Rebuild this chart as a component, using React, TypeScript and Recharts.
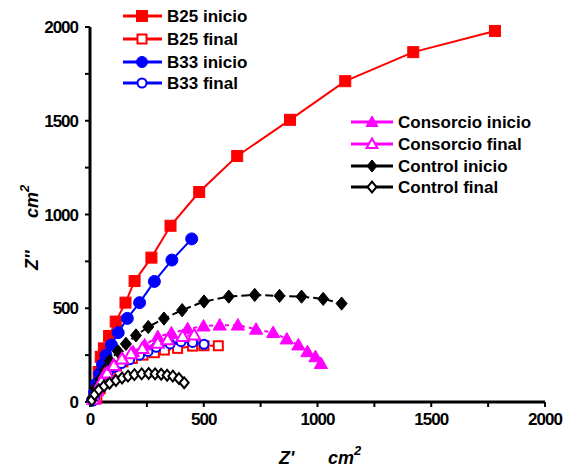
import React from 'react';
import { ScatterChart, Scatter, XAxis, YAxis } from 'recharts';

// Nyquist data, [Z', Z''] pairs
const b25Inicio = [
  [25, 20], [30, 80], [38, 160], [47, 241], [61, 286], [84, 352], [113, 429], [156, 530],
  [196, 645], [270, 770], [354, 940], [480, 1120], [647, 1312], [879, 1505], [1122, 1711],
  [1421, 1866], [1780, 1979],
];
const b25Final = [
  [30, 20], [45, 70], [65, 120], [90, 165], [116, 192], [145, 214], [186, 232], [233, 250],
  [283, 263], [327, 277], [385, 286], [451, 298], [501, 300], [564, 300],
];
const b33Inicio = [
  [12, 10], [20, 50], [30, 100], [42, 150], [55, 200], [70, 250], [94, 304], [124, 370],
  [164, 446], [218, 530], [283, 643], [360, 757], [447, 870],
];
const b33Final = [
  [20, 20], [35, 70], [55, 115], [80, 155], [108, 185], [138, 205], [174, 225], [218, 250],
  [255, 270], [291, 292], [352, 310], [400, 322], [451, 318], [501, 308],
];
const consorcioInicio = [
  [20, 20], [40, 80], [65, 150], [102, 196], [142, 232], [189, 268], [240, 304], [298, 348],
  [358, 368], [429, 390], [499, 405], [570, 410], [650, 410], [730, 388], [805, 370],
  [865, 336], [916, 304], [956, 268], [991, 241], [1015, 205],
];
const consorcioFinal = [
  [15, 15], [30, 60], [50, 110], [75, 155], [105, 195], [140, 230], [180, 258], [230, 285],
  [298, 314], [341, 332], [407, 350], [458, 358],
];
const controlInicio = [
  [10, 20], [25, 70], [45, 120], [65, 170], [87, 220], [123, 270], [158, 310], [202, 355],
  [256, 400], [325, 445], [405, 490], [501, 536], [610, 562], [724, 571], [833, 566],
  [930, 562], [1025, 550], [1106, 525],
];
const controlFinal = [
  [8, 10], [20, 40], [39, 65], [62, 85], [86, 100], [114, 115], [141, 128], [167, 138],
  [195, 146], [227, 150], [258, 152], [286, 150], [313, 148], [339, 143], [364, 138],
  [391, 125], [414, 103],
];

const axisTicks = [0, 250, 500, 750, 1000, 1250, 1500, 1750, 2000];

const toPts = (arr: number[][]) => arr.map(([x, y]) => ({ x, y }));

type Kind = 'square' | 'circle' | 'triangle' | 'diamond';

const drawMarker = (kind: Kind, color: string, open: boolean, s: number, cx: number, cy: number) => {
  const fill = open ? '#fff' : color;
  const stroke = color;
  const sw = open ? 2 : 1;
  if (kind === 'square') {
    return <rect x={cx - s / 2} y={cy - s / 2} width={s} height={s} fill={fill} stroke={stroke} strokeWidth={sw} />;
  }
  if (kind === 'circle') {
    return <circle cx={cx} cy={cy} r={s / 2} fill={fill} stroke={stroke} strokeWidth={sw} />;
  }
  if (kind === 'triangle') {
    const pts = `${cx},${cy - s * 0.6} ${cx - s * 0.6},${cy + s * 0.45} ${cx + s * 0.6},${cy + s * 0.45}`;
    return <polygon points={pts} fill={fill} stroke={stroke} strokeWidth={sw} strokeLinejoin="miter" />;
  }
  const pts = `${cx},${cy - s * 0.6} ${cx + s * 0.5},${cy} ${cx},${cy + s * 0.6} ${cx - s * 0.5},${cy}`;
  return <polygon points={pts} fill={fill} stroke={stroke} strokeWidth={sw} />;
};

const shape = (kind: Kind, color: string, open: boolean, s: number) => (props: any) => {
  const { cx, cy } = props;
  if (cx == null || cy == null) return <g />;
  return drawMarker(kind, color, open, s, cx, cy);
};

const series = [
  { name: 'B25 inicio', data: b25Inicio, color: '#ff0000', kind: 'square' as Kind, open: false, size: 11, dash: undefined },
  { name: 'B25 final', data: b25Final, color: '#ff0000', kind: 'square' as Kind, open: true, size: 9, dash: '6 3' },
  { name: 'B33 inicio', data: b33Inicio, color: '#0000ff', kind: 'circle' as Kind, open: false, size: 12, dash: undefined },
  { name: 'B33 final', data: b33Final, color: '#0000ff', kind: 'circle' as Kind, open: true, size: 9, dash: undefined },
  { name: 'Control inicio', data: controlInicio, color: '#000000', kind: 'diamond' as Kind, open: false, size: 11, dash: '8 4' },
  { name: 'Consorcio inicio', data: consorcioInicio, color: '#ff00ff', kind: 'triangle' as Kind, open: false, size: 11, dash: '4 4' },
  { name: 'Consorcio final', data: consorcioFinal, color: '#ff00ff', kind: 'triangle' as Kind, open: true, size: 10, dash: '4 4' },
  { name: 'Control final', data: controlFinal, color: '#000000', kind: 'diamond' as Kind, open: true, size: 9, dash: '3 3' },
];

const FONT = 'Liberation Sans, Arial, sans-serif';

const tickStyle = {
  fill: '#000',
  fontSize: 17,
  fontWeight: 'bold',
  fontFamily: FONT,
  letterSpacing: -1,
};

const majorOnly = (v: number) => (v % 500 === 0 ? String(v) : '');

const Legends = () => {
  const left = series.filter(s => s.name.startsWith('B'));
  const right = [series[5], series[6], series[4], series[7]];
  return (
    <svg width={570} height={472} style={{ position: 'absolute', left: 0, top: 0, pointerEvents: 'none' }}>
      {left.map((s, i) => {
        const y = [16, 39, 62, 83][i];
        return (
          <g key={s.name}>
            <line x1={123} x2={162} y1={y} y2={y} stroke={s.color} strokeWidth={3} />
            {drawMarker(s.kind, s.color, s.open, s.open ? 9 : 11, 142, y)}
            <text x={167} y={y + 6} fontFamily={FONT} fontWeight="bold" fontSize={17} fill="#000">{s.name}</text>
          </g>
        );
      })}
      {right.map((s, i) => {
        const y = [122, 144, 166, 187][i];
        return (
          <g key={s.name}>
            <line x1={351} x2={393} y1={y} y2={y} stroke={s.color} strokeWidth={3} />
            {drawMarker(s.kind, s.color, s.open, s.open ? 9 : 10, 372, y)}
            <text x={398} y={y + 6} fontFamily={FONT} fontWeight="bold" fontSize={17} fill="#000">{s.name}</text>
          </g>
        );
      })}
      <text x={279} y={464} fontFamily={FONT} fontWeight="bold" fontStyle="italic" fontSize={18} fill="#000">
        Z'
      </text>
      <text x={328} y={464} fontFamily={FONT} fontWeight="bold" fontStyle="italic" fontSize={18} fill="#000">
        cm<tspan dy={-9} fontSize={13}>2</tspan>
      </text>
      <g transform="translate(38, 230) rotate(-90)">
        <text x={-40} y={0} fontFamily={FONT} fontWeight="bold" fontStyle="italic" fontSize={18} fill="#000">
          Z''
        </text>
        <text x={12} y={0} fontFamily={FONT} fontWeight="bold" fontStyle="italic" fontSize={18} fill="#000">
          cm<tspan dy={-9} fontSize={13}>2</tspan>
        </text>
      </g>
    </svg>
  );
};

const App = () => {
  return (
    <div style={{ position: 'absolute', left: 0, top: 0, width: 570, height: 472, background: '#fff' }}>
      <ScatterChart width={570} height={472} margin={{ top: 27, right: 25, bottom: 40, left: 0 }}>
        <XAxis
          type="number"
          dataKey="x"
          domain={[0, 2000]}
          ticks={axisTicks}
          tickFormatter={majorOnly}
          interval={0}
          height={30}
          axisLine={{ stroke: '#000', strokeWidth: 3 }}
          tickLine={{ stroke: '#000', strokeWidth: 2 }}
          tickSize={5}
          tickMargin={6}
          tick={tickStyle}
        />
        <YAxis
          type="number"
          dataKey="y"
          domain={[0, 2000]}
          ticks={axisTicks}
          tickFormatter={majorOnly}
          interval={0}
          width={90}
          axisLine={{ stroke: '#000', strokeWidth: 3 }}
          tickLine={{ stroke: '#000', strokeWidth: 2 }}
          tickSize={5}
          tickMargin={7}
          tick={tickStyle}
        />
        {series.map(s => (
          <Scatter
            key={s.name}
            name={s.name}
            data={toPts(s.data)}
            line={{ stroke: s.color, strokeWidth: 2, strokeDasharray: s.dash }}
            lineType="joint"
            shape={shape(s.kind, s.color, s.open, s.size)}
            isAnimationActive={false}
          />
        ))}
      </ScatterChart>
      <Legends />
    </div>
  );
};

export default App;
